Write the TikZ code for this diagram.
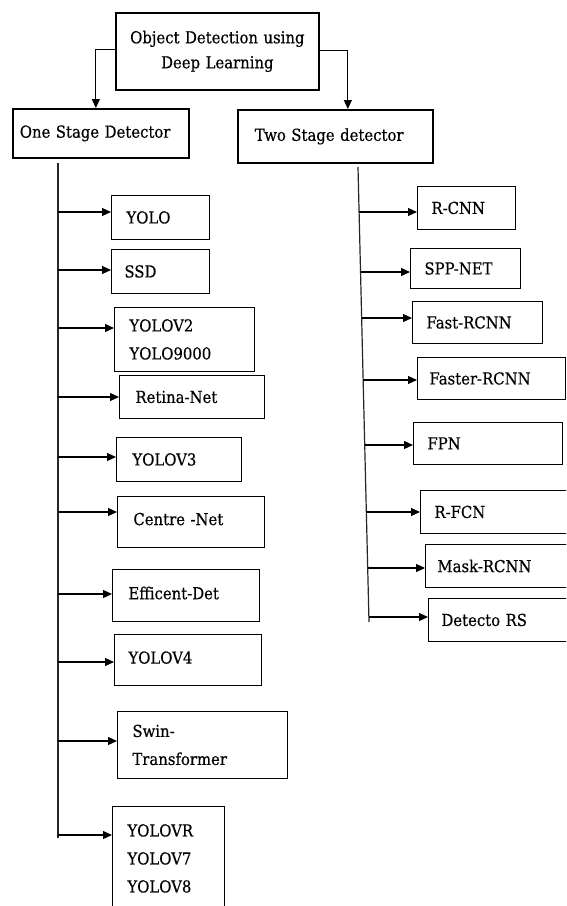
\documentclass[tikz,border=0pt]{standalone}
\usepackage{fontspec}
\setmainfont{DejaVu Serif}[FakeStretch=0.9, FakeBold=0.4]
\usetikzlibrary{arrows.meta}
\tikzset{
  thickbox/.style={draw, line width=1.7pt, anchor=north west, inner ysep=0pt, align=left,
    font=\fontsize{16.5}{25}\selectfont},
  sbox/.style={draw, line width=0.9pt, anchor=north west, inner ysep=0pt, align=left,
    font=\fontsize{16.5}{28}\selectfont},
  arr/.style={line width=1.1pt, -{Triangle[length=9pt,width=8pt]}},
  trunk/.style={line width=1.2pt, draw=black!85}
}
\begin{document}
\begin{tikzpicture}[x=1pt,y=-1pt]
\clip (0,0) rectangle (566,906);
\fill[white] (0,0) rectangle (566,906);
% top level
\node[thickbox, align=center, inner xsep=6pt, text width=191pt, minimum height=77pt] (top) at (115,12) {Object Detection using\\Deep Learning};
\node[thickbox, inner xsep=7pt, text width=162pt, minimum height=49pt] (one) at (12,108) {One Stage Detector};
\node[thickbox, inner xsep=17pt, text width=161pt, minimum height=53pt] (two) at (237,109) {Two Stage detector};
\draw[arr] ([yshift=2pt]top.west) -| ([xshift=-5pt]one.north);
\draw[arr] ([yshift=1pt]top.east) -| ([xshift=12.5pt]two.north);
% one stage boxes
\node[sbox, inner xsep=15pt, text width=68pt, minimum height=44pt] (yolo) at (111,195) {YOLO};
\node[sbox, inner xsep=13pt, text width=72pt, minimum height=44pt] (ssd) at (111,249) {SSD};
\node[sbox, inner xsep=15pt, text width=110pt, minimum height=64pt] (yolov2) at (114,307) {YOLOV2\\YOLO9000};
\node[sbox, inner xsep=16pt, text width=113pt, minimum height=43pt] (retina) at (119,375) {Retina-Net};
\node[sbox, inner xsep=16pt, text width=93pt, minimum height=44pt] (yolov3) at (116,437) {YOLOV3};
\node[sbox, inner xsep=16pt, text width=115pt, minimum height=51pt] (centre) at (117,496) {\raisebox{6pt}{Centre -Net}};
\node[sbox, inner xsep=16pt, text width=115pt, minimum height=52pt] (effdet) at (112,569) {\raisebox{5pt}{Efficent-Det}};
\node[sbox, inner xsep=14pt, text width=119pt, minimum height=51pt] (yolov4) at (114,634) {\raisebox{5pt}{YOLOV4}};
\node[sbox, inner xsep=15pt, text width=140pt, minimum height=67pt] (swin) at (117,711) {Swin-\\Transformer};
\node[sbox, inner xsep=15pt, text width=82pt, minimum height=104pt] (yolovr) at (112,806) {\raisebox{4pt}{\parbox{82pt}{YOLOVR\\YOLOV7\\YOLOV8}}};
% two stage boxes
\node[sbox, inner xsep=14pt, text width=70pt, minimum height=43pt] (rcnn) at (417,186) {R-CNN};
\node[sbox, inner xsep=14pt, text width=82pt, minimum height=40pt] (spp) at (410,248) {SPP-NET};
\node[sbox, inner xsep=14pt, text width=102pt, minimum height=42pt] (fast) at (412,301) {Fast-RCNN};
\node[sbox, inner xsep=12pt, text width=124pt, minimum height=42pt] (faster) at (417,357) {Faster-RCNN};
\node[sbox, inner xsep=14pt, text width=121pt, minimum height=42pt] (fpn) at (413,422) {FPN};
\node[sbox, inner xsep=14pt, text width=150pt, minimum height=43pt] (rfcn) at (420,490) {R-FCN};
\node[sbox, inner xsep=12pt, text width=150pt, minimum height=43pt] (mask) at (425,544) {Mask-RCNN};
\node[sbox, inner xsep=13pt, text width=150pt, minimum height=43pt] (detecto) at (428,598) {Detecto RS};
% trunks
\coordinate (lt1) at (58,163);
\coordinate (lt2) at (58,838);
\coordinate (rt1) at (358,167);
\coordinate (rt2) at (369,622);
\draw[trunk] (lt1) -- (lt2);
\draw[trunk] (rt1) -- (rt2);
% left branches
\foreach \n/\y in {yolo/212, ssd/270, yolov2/328, retina/397, yolov3/457, centre/512, effdet/594, yolov4/662, swin/741, yolovr/835}{
  \coordinate (s-\n) at (58,\y);
  \draw[arr] (s-\n) -- (s-\n -| \n.west);
}
% right branches
\foreach \n/\y/\x in {rcnn/212/359, spp/272/360.5, fast/318/361.6, faster/380/363, fpn/445/364.7, rfcn/512/366.3, mask/568/367.7, detecto/617/368.9}{
  \coordinate (s-\n) at (\x,\y);
  \draw[arr] (s-\n) -- (s-\n -| \n.west);
}
\end{tikzpicture}
\end{document}
